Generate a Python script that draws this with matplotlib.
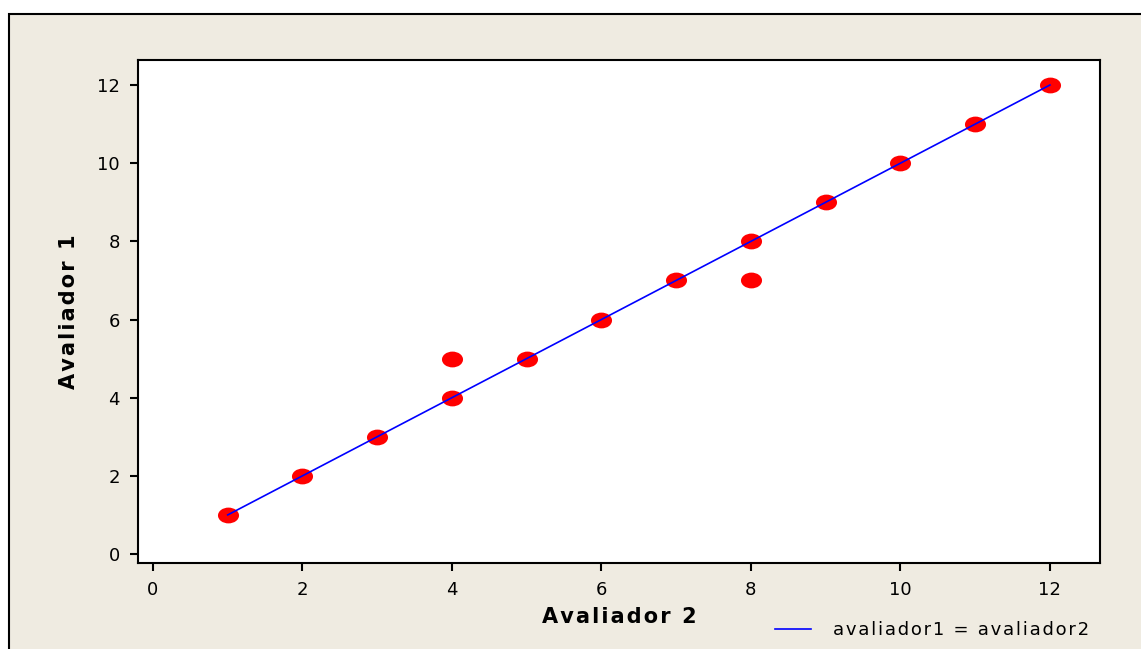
import matplotlib.pyplot as plt
from matplotlib.patches import Rectangle
from matplotlib.path import Path
from matplotlib.transforms import Affine2D

plt.rcParams['font.family'] = ['DejaVu Sans']

# dados: avaliador 2 (x) e avaliador 1 (y)
avaliador2 = [1, 2, 3, 4, 4, 5, 6, 7, 8, 8, 9, 10, 11, 12]
avaliador1 = [1, 2, 3, 4, 5, 5, 6, 7, 8, 7, 9, 10, 11, 12]
linha_x = [1, 12]
linha_y = [1, 12]
ticks = [0, 2, 4, 6, 8, 10, 12]
rotulo_linha = 'avaliador1 = avaliador2'
rotulo_x = 'Avaliador 2'
rotulo_y = 'Avaliador 1'

W, H = 1141, 649
fig = plt.figure(figsize=(W / 100, H / 100), dpi=100)
fig.patch.set_facecolor('white')

# fundo bege com borda
fig.patches.append(Rectangle((9 / W, -0.01), 1.02, 1 - 14 / H + 0.01,
                             transform=fig.transFigure, facecolor='#EFEBE1',
                             edgecolor='black', linewidth=1.5, zorder=-10))

ax = fig.add_axes([138 / W, 1 - 563 / H, (1100 - 138) / W, (563 - 60) / H])
ax.set_zorder(5)
ax.set_facecolor('white')

elipse = Path.unit_circle().transformed(Affine2D().scale(1, 0.75))
ax.scatter(avaliador2, avaliador1, marker=elipse, s=230, color='#FF0000',
           linewidths=0, zorder=3)
ax.plot(linha_x, linha_y, color='blue', linewidth=1.2, zorder=4,
        label='\u200a'.join(rotulo_linha))

ax.set_xlim(-0.2, 12.67)
ax.set_ylim(-0.23, 12.64)
ax.set_xticks(ticks)
ax.set_yticks(ticks)
ax.tick_params(labelsize=13, length=6, width=1.5, direction='out', pad=7)
for s in ax.spines.values():
    s.set_linewidth(1.5)

ax.set_xlabel('\u200a'.join(rotulo_x), fontsize=15, fontweight='bold', labelpad=6)
ax.set_ylabel('\u200a'.join(rotulo_y), fontsize=15, fontweight='bold', labelpad=13)

leg = fig.legend(loc='center right', bbox_to_anchor=(1096 / W, 1 - 630 / H),
                 frameon=False, fontsize=13, handlelength=2.0, handletextpad=1.2,
                 borderaxespad=0)
leg.set_zorder(6)

fig.savefig('out.png', dpi=100, facecolor=fig.get_facecolor())
